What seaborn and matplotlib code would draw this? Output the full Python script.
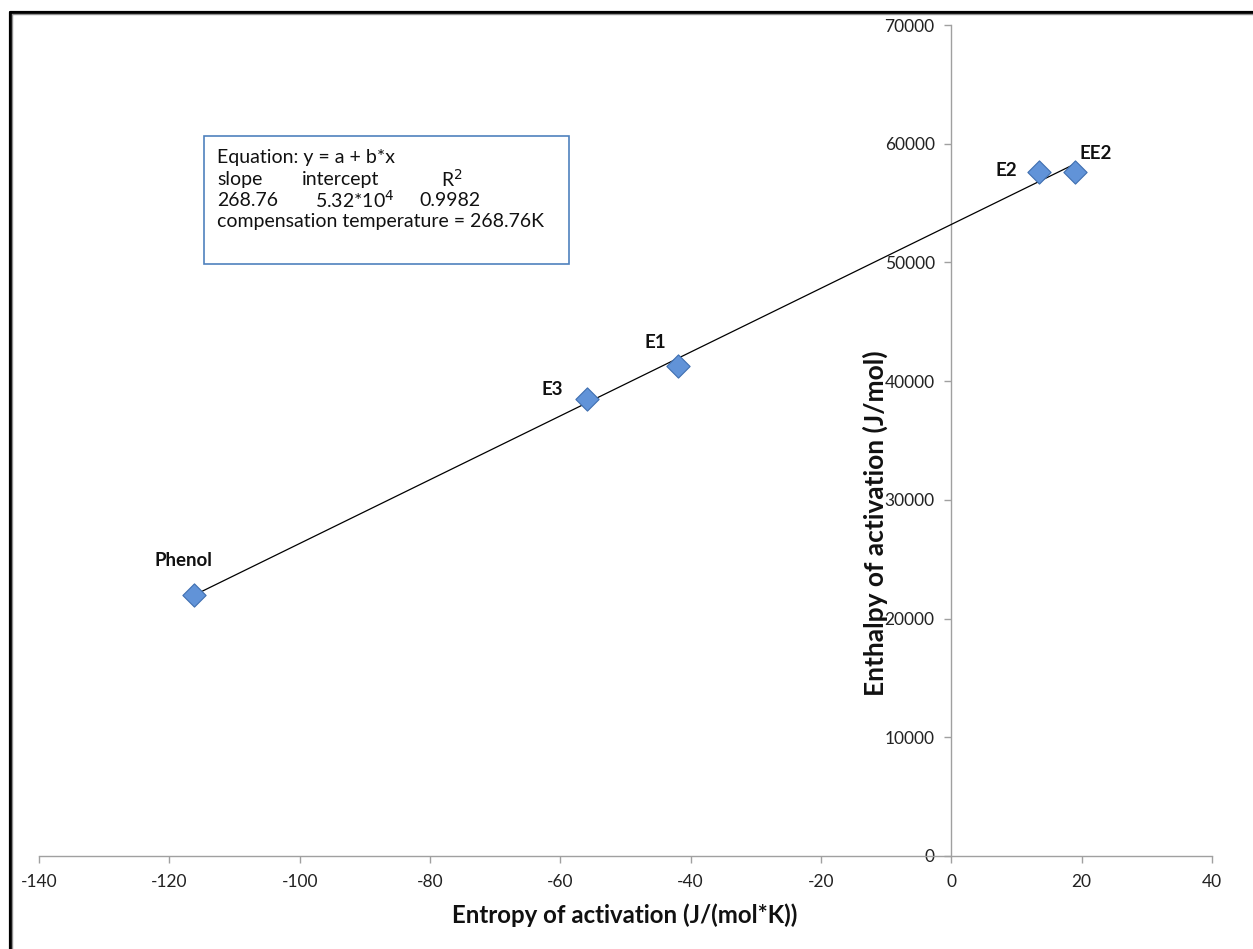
import matplotlib
matplotlib.use("Agg")
import matplotlib.pyplot as plt
import seaborn as sns
import pandas as pd
import numpy as np
from matplotlib.lines import Line2D
from matplotlib.patches import Rectangle

# ---- data ----
compounds = ["Phenol", "E3", "E1", "E2", "EE2"]
entropy = [-116.2, -55.9, -42.0, 13.4, 19.0]          # J/(mol*K)
enthalpy = [22000, 38500, 41300, 57600, 57600]        # J/mol
slope = 268.76
intercept = 53200
x_ticks = [-140, -120, -100, -80, -60, -40, -20, 0, 20, 40]
y_ticks = [0, 10000, 20000, 30000, 40000, 50000, 60000, 70000]

sns.set_theme(style="white")
plt.rcParams['font.family'] = ['Lato', 'DejaVu Sans']

W, H = 1253, 949
fig = plt.figure(figsize=(W / 100, H / 100), dpi=100)
L, R, T, B = 39, 1212, 25, 856
ax = fig.add_axes([L / W, 1 - B / H, (R - L) / W, (B - T) / H])

df = pd.DataFrame({"x": entropy, "y": enthalpy, "name": compounds})

# trend line
xl = np.array([min(entropy), max(entropy)])
ax.plot(xl, intercept + slope * xl, color="black", lw=0.9, zorder=3)

sns.scatterplot(data=df, x="x", y="y", marker="D", s=140, color="#6193d8",
                edgecolor="#3f6fb0", linewidth=0.8, ax=ax, zorder=4, legend=False)

ax.set_xlim(-140, 40)
ax.set_ylim(0, 70000)
ax.set_xticks(x_ticks)
ax.set_yticks(y_ticks)
ax.set_xticklabels([str(v) for v in x_ticks])
ax.set_yticklabels([str(v) for v in y_ticks])

for s in ["top", "right"]:
    ax.spines[s].set_visible(False)
ax.spines["left"].set_position(("data", 0))
ax.spines["bottom"].set_position(("data", 0))
for s in ["left", "bottom"]:
    ax.spines[s].set_color("#a0a0a0")
    ax.spines[s].set_linewidth(1.0)
ax.tick_params(axis="both", direction="out", length=5, width=1.0, color="#a0a0a0",
               labelsize=12.5, labelcolor="#222222")
ax.tick_params(axis="x", pad=8, bottom=True)
ax.tick_params(axis="y", pad=7, left=True)
ax.set_xlabel("")
ax.set_ylabel("")
ax.grid(False)

# point labels (offsets in pixels: right, up)
offsets = {"Phenol": (-11, 34), "E3": (-35, 9), "E1": (-22, 23), "E2": (-32, 2), "EE2": (21, 19)}
for n, x, y in zip(compounds, entropy, enthalpy):
    dx, dy = offsets[n]
    ax.annotate(n, (x, y), xytext=(dx * 0.72, dy * 0.72), textcoords="offset points",
                ha="center", va="center", fontsize=13.5, fontweight="bold", color="#111111")

# axis titles (figure pixel positions)
fig.text(625 / W, 1 - 915 / H, "Entropy of activation (J/(mol*K))", ha="center", va="center",
         fontsize=17.3, fontweight="bold", color="#111111")
fig.text(875 / W, 1 - 523 / H, "Enthalpy of activation (J/mol)", ha="center", va="center",
         rotation=90, fontsize=19, fontweight="bold", color="#111111")

# equation box
fig.add_artist(Rectangle((204 / W, 1 - 264 / H), (569 - 204) / W, (264 - 136) / H,
                         transform=fig.transFigure, facecolor="white", edgecolor="#4f81bd", lw=1.2))
fs = 14
def ft(x, y, s, **kw):
    fig.text(x / W, 1 - y / H, s, ha="left", va="center", fontsize=fs, color="#111111", **kw)
ft(217, 157, "Equation: y = a + b*x")
ft(217, 179, "slope")
ft(302, 179, "intercept")
ft(441, 179, "R$^2$")
ft(217, 200, "268.76")
ft(315, 200, "5.32*10$^4$")
ft(419, 200, "0.9982")
ft(217, 222, "compensation temperature = 268.76K")

# screenshot frame (top and left borders)
fig.add_artist(Line2D([9.5 / W, 1], [1 - 11.5 / H, 1 - 11.5 / H], transform=fig.transFigure,
                      color="black", lw=2.3))
fig.add_artist(Line2D([9.5 / W, 9.5 / W], [0, 1 - 11.5 / H], transform=fig.transFigure,
                      color="black", lw=2.3))
fig.add_artist(Line2D([11.8 / W, 1], [1 - 13.8 / H, 1 - 13.8 / H], transform=fig.transFigure,
                      color="#909090", lw=1.0))
fig.add_artist(Line2D([11.8 / W, 11.8 / W], [0, 1 - 13.8 / H], transform=fig.transFigure,
                      color="#909090", lw=1.0))

fig.savefig("out.png", dpi=100)
